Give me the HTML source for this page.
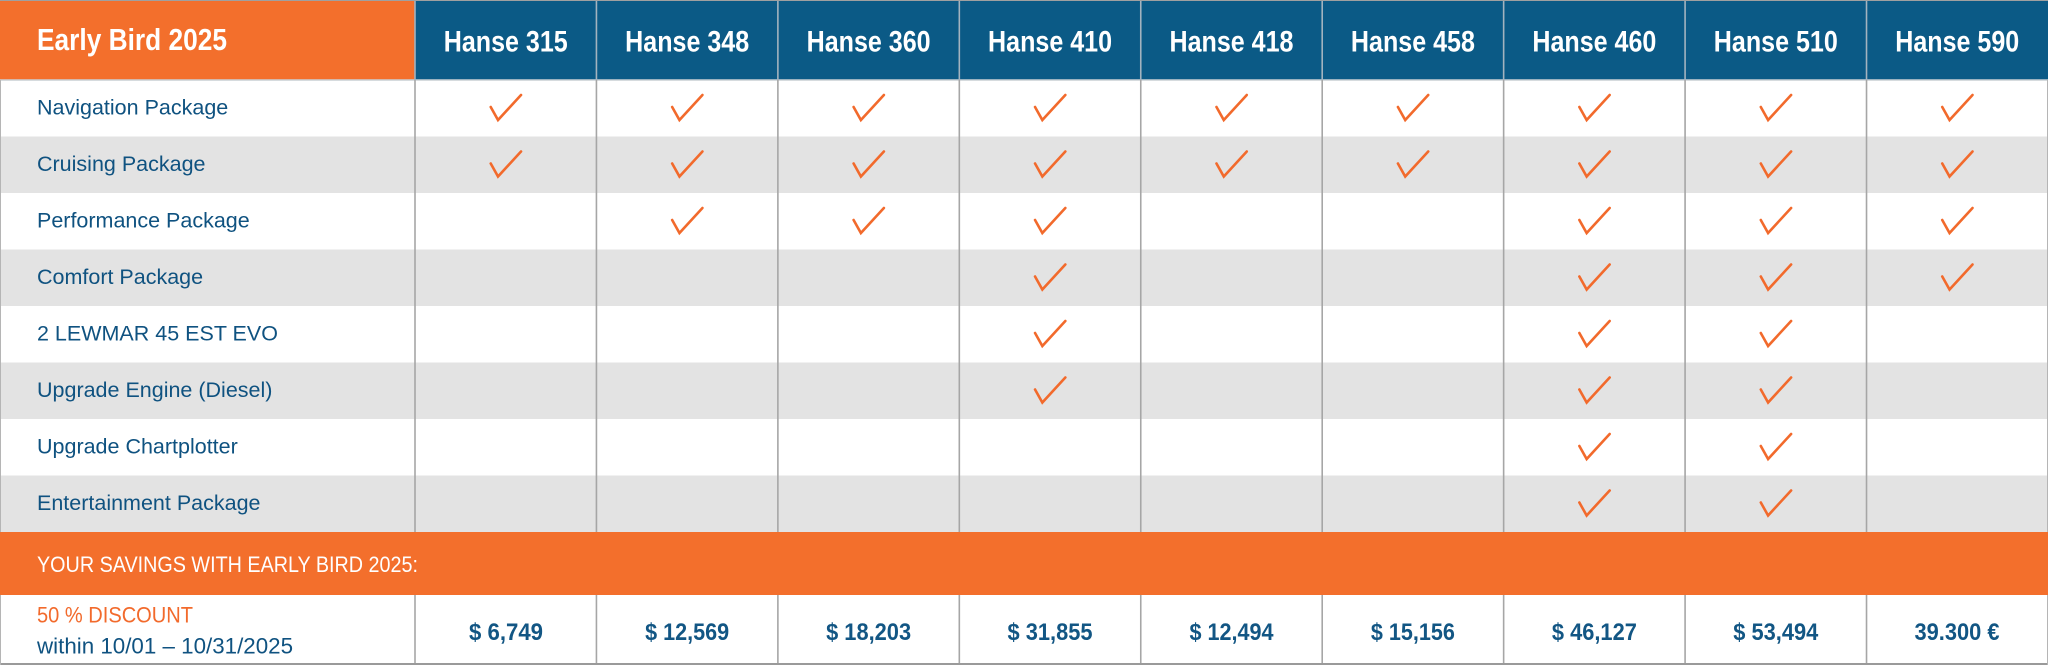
<!DOCTYPE html>
<html>
<head>
<meta charset="utf-8">
<style>
  html, body { margin: 0; padding: 0; background: #ffffff; }
  body { width: 2048px; height: 665px; overflow: hidden; }
  svg { display: block; }
  text { font-family: "Liberation Sans", sans-serif; }
</style>
</head>
<body>
<svg width="2048" height="665" viewBox="0 0 2048 665" xmlns="http://www.w3.org/2000/svg">
  <!-- background -->
  <rect x="0" y="0" width="2048" height="665" fill="#ffffff"/>

  <!-- header -->
  <rect x="0" y="0" width="415" height="80" fill="#f36f2c"/>
  <rect x="415" y="0" width="1633" height="80" fill="#0b5a86"/>

  <!-- gray rows -->
  <rect x="0" y="136.5" width="2048" height="56.5" fill="#e3e3e3"/>
  <rect x="0" y="249.5" width="2048" height="56.5" fill="#e3e3e3"/>
  <rect x="0" y="362.5" width="2048" height="56.5" fill="#e3e3e3"/>
  <rect x="0" y="475.5" width="2048" height="56.5" fill="#e3e3e3"/>

  <!-- savings band -->
  <rect x="0" y="532" width="2048" height="63" fill="#f36f2c"/>

  <!-- header bottom line -->
  <line x1="0" y1="80" x2="2048" y2="80" stroke="#c9cfd4" stroke-width="1.5"/>

  <!-- vertical lines -->
  <g stroke-width="1.6">
    <g stroke="#a3b3bf">
      <line x1="415" y1="0" x2="415" y2="80"/>
      <line x1="596.44" y1="0" x2="596.44" y2="80"/>
      <line x1="777.88" y1="0" x2="777.88" y2="80"/>
      <line x1="959.32" y1="0" x2="959.32" y2="80"/>
      <line x1="1140.76" y1="0" x2="1140.76" y2="80"/>
      <line x1="1322.2" y1="0" x2="1322.2" y2="80"/>
      <line x1="1503.64" y1="0" x2="1503.64" y2="80"/>
      <line x1="1685.08" y1="0" x2="1685.08" y2="80"/>
      <line x1="1866.52" y1="0" x2="1866.52" y2="80"/>
    </g>
    <g stroke="#a6a6a6">
      <line x1="415" y1="80" x2="415" y2="532"/>
      <line x1="596.44" y1="80" x2="596.44" y2="532"/>
      <line x1="777.88" y1="80" x2="777.88" y2="532"/>
      <line x1="959.32" y1="80" x2="959.32" y2="532"/>
      <line x1="1140.76" y1="80" x2="1140.76" y2="532"/>
      <line x1="1322.2" y1="80" x2="1322.2" y2="532"/>
      <line x1="1503.64" y1="80" x2="1503.64" y2="532"/>
      <line x1="1685.08" y1="80" x2="1685.08" y2="532"/>
      <line x1="1866.52" y1="80" x2="1866.52" y2="532"/>

      <line x1="415" y1="595" x2="415" y2="663"/>
      <line x1="596.44" y1="595" x2="596.44" y2="663"/>
      <line x1="777.88" y1="595" x2="777.88" y2="663"/>
      <line x1="959.32" y1="595" x2="959.32" y2="663"/>
      <line x1="1140.76" y1="595" x2="1140.76" y2="663"/>
      <line x1="1322.2" y1="595" x2="1322.2" y2="663"/>
      <line x1="1503.64" y1="595" x2="1503.64" y2="663"/>
      <line x1="1685.08" y1="595" x2="1685.08" y2="663"/>
      <line x1="1866.52" y1="595" x2="1866.52" y2="663"/>
    </g>
  </g>

  <!-- outer borders -->
  <line x1="0" y1="0.5" x2="2048" y2="0.5" stroke="#a0a0a0" stroke-width="1"/>
  <line x1="0" y1="664" x2="2048" y2="664" stroke="#9a9a9a" stroke-width="2"/>
  <line x1="0.5" y1="80" x2="0.5" y2="532" stroke="#b5b5b5" stroke-width="1"/>
  <line x1="0.5" y1="595" x2="0.5" y2="665" stroke="#b5b5b5" stroke-width="1"/>
  <line x1="2047.5" y1="80" x2="2047.5" y2="532" stroke="#b5b5b5" stroke-width="1"/>
  <line x1="2047.5" y1="595" x2="2047.5" y2="665" stroke="#b5b5b5" stroke-width="1"/>

  <!-- header text -->
  <text x="37" y="50" font-size="31" font-weight="bold" fill="#ffffff" textLength="190" lengthAdjust="spacingAndGlyphs">Early Bird 2025</text>
  <g font-size="30" font-weight="bold" fill="#ffffff" text-anchor="middle">
    <text x="505.72" y="51.5" textLength="124" lengthAdjust="spacingAndGlyphs">Hanse 315</text>
    <text x="687.16" y="51.5" textLength="124" lengthAdjust="spacingAndGlyphs">Hanse 348</text>
    <text x="868.6" y="51.5" textLength="124" lengthAdjust="spacingAndGlyphs">Hanse 360</text>
    <text x="1050.04" y="51.5" textLength="124" lengthAdjust="spacingAndGlyphs">Hanse 410</text>
    <text x="1231.48" y="51.5" textLength="124" lengthAdjust="spacingAndGlyphs">Hanse 418</text>
    <text x="1412.92" y="51.5" textLength="124" lengthAdjust="spacingAndGlyphs">Hanse 458</text>
    <text x="1594.36" y="51.5" textLength="124" lengthAdjust="spacingAndGlyphs">Hanse 460</text>
    <text x="1775.8" y="51.5" textLength="124" lengthAdjust="spacingAndGlyphs">Hanse 510</text>
    <text x="1957.24" y="51.5" textLength="124" lengthAdjust="spacingAndGlyphs">Hanse 590</text>
  </g>

  <!-- row labels -->
  <g font-size="21.5" fill="#0f5280">
    <text x="37" y="114.5">Navigation Package</text>
    <text x="37" y="171">Cruising Package</text>
    <text x="37" y="227.5">Performance Package</text>
    <text x="37" y="284">Comfort Package</text>
    <text x="37" y="340.5">2 LEWMAR 45 EST EVO</text>
    <text x="37" y="397">Upgrade Engine (Diesel)</text>
    <text x="37" y="453.5">Upgrade Chartplotter</text>
    <text x="37" y="510">Entertainment Package</text>
  </g>

  <!-- check marks -->
  <defs>
    <polyline id="chk" points="-15,-1.5 -7.7,11.5 15.3,-13.5" fill="none" stroke="#f26a2c" stroke-width="2.6" stroke-linejoin="miter" stroke-linecap="round"/>
  </defs>
  <g>
    <!-- row 1: all (cy=108.5) -->
    <use href="#chk" x="505.72" y="108.5"/>
    <use href="#chk" x="687.16" y="108.5"/>
    <use href="#chk" x="868.6" y="108.5"/>
    <use href="#chk" x="1050.04" y="108.5"/>
    <use href="#chk" x="1231.48" y="108.5"/>
    <use href="#chk" x="1412.92" y="108.5"/>
    <use href="#chk" x="1594.36" y="108.5"/>
    <use href="#chk" x="1775.8" y="108.5"/>
    <use href="#chk" x="1957.24" y="108.5"/>
    <!-- row 2: all (cy=165) -->
    <use href="#chk" x="505.72" y="165"/>
    <use href="#chk" x="687.16" y="165"/>
    <use href="#chk" x="868.6" y="165"/>
    <use href="#chk" x="1050.04" y="165"/>
    <use href="#chk" x="1231.48" y="165"/>
    <use href="#chk" x="1412.92" y="165"/>
    <use href="#chk" x="1594.36" y="165"/>
    <use href="#chk" x="1775.8" y="165"/>
    <use href="#chk" x="1957.24" y="165"/>
    <!-- row 3 (cy=221.5): 348,360,410,460,510,590 -->
    <use href="#chk" x="687.16" y="221.5"/>
    <use href="#chk" x="868.6" y="221.5"/>
    <use href="#chk" x="1050.04" y="221.5"/>
    <use href="#chk" x="1594.36" y="221.5"/>
    <use href="#chk" x="1775.8" y="221.5"/>
    <use href="#chk" x="1957.24" y="221.5"/>
    <!-- row 4 (cy=278): 410,460,510,590 -->
    <use href="#chk" x="1050.04" y="278"/>
    <use href="#chk" x="1594.36" y="278"/>
    <use href="#chk" x="1775.8" y="278"/>
    <use href="#chk" x="1957.24" y="278"/>
    <!-- row 5 (cy=334.5): 410,460,510 -->
    <use href="#chk" x="1050.04" y="334.5"/>
    <use href="#chk" x="1594.36" y="334.5"/>
    <use href="#chk" x="1775.8" y="334.5"/>
    <!-- row 6 (cy=391): 410,460,510 -->
    <use href="#chk" x="1050.04" y="391"/>
    <use href="#chk" x="1594.36" y="391"/>
    <use href="#chk" x="1775.8" y="391"/>
    <!-- row 7 (cy=447.5): 460,510 -->
    <use href="#chk" x="1594.36" y="447.5"/>
    <use href="#chk" x="1775.8" y="447.5"/>
    <!-- row 8 (cy=504): 460,510 -->
    <use href="#chk" x="1594.36" y="504"/>
    <use href="#chk" x="1775.8" y="504"/>
  </g>

  <!-- savings band text -->
  <text x="37" y="572" font-size="22" fill="#ffffff" textLength="381" lengthAdjust="spacingAndGlyphs">YOUR SAVINGS WITH EARLY BIRD 2025:</text>

  <!-- last row -->
  <text x="37" y="622.3" font-size="22" fill="#f26a2c" textLength="156" lengthAdjust="spacingAndGlyphs">50 % DISCOUNT</text>
  <text x="37" y="653.3" font-size="22" fill="#0f5280" textLength="256" lengthAdjust="spacingAndGlyphs">within 10/01 – 10/31/2025</text>

  <g font-size="24" font-weight="bold" fill="#125684" text-anchor="middle">
    <text x="506" y="640" textLength="74" lengthAdjust="spacingAndGlyphs">$ 6,749</text>
    <text x="687.16" y="640" textLength="84" lengthAdjust="spacingAndGlyphs">$ 12,569</text>
    <text x="868.6" y="640" textLength="85" lengthAdjust="spacingAndGlyphs">$ 18,203</text>
    <text x="1050.04" y="640" textLength="85" lengthAdjust="spacingAndGlyphs">$ 31,855</text>
    <text x="1231.48" y="640" textLength="84" lengthAdjust="spacingAndGlyphs">$ 12,494</text>
    <text x="1412.92" y="640" textLength="84" lengthAdjust="spacingAndGlyphs">$ 15,156</text>
    <text x="1594.36" y="640" textLength="85" lengthAdjust="spacingAndGlyphs">$ 46,127</text>
    <text x="1775.8" y="640" textLength="85" lengthAdjust="spacingAndGlyphs">$ 53,494</text>
    <text x="1957" y="640" textLength="85" lengthAdjust="spacingAndGlyphs">39.300 €</text>
  </g>
</svg>
</body>
</html>
